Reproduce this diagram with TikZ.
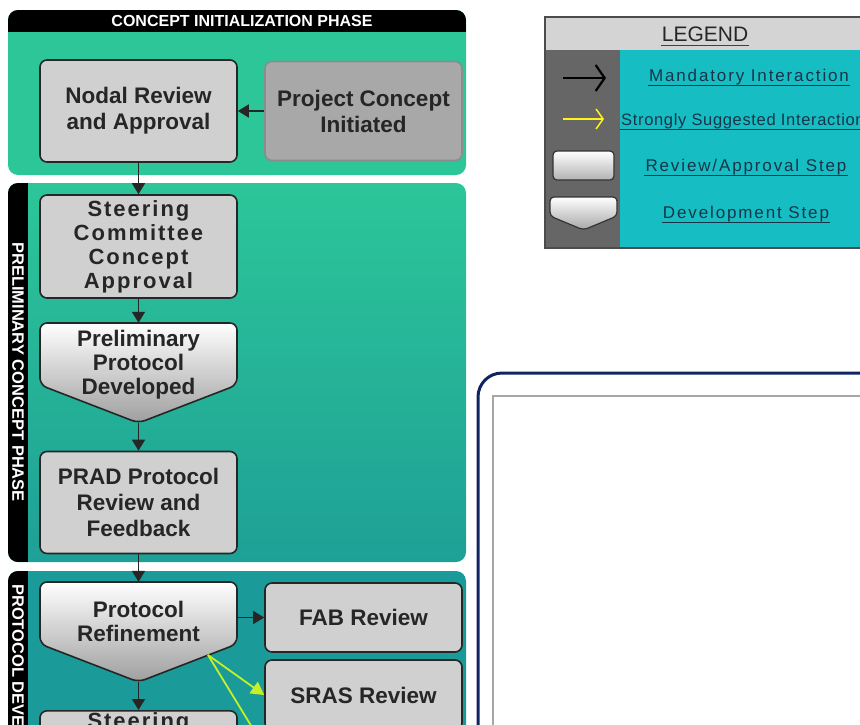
\documentclass[tikz,border=0pt]{standalone}
\usepackage{fontspec}
\setmainfont{Liberation Sans}
\newfontfamily\spacedfont[LetterSpace=9]{Liberation Sans}
\newfontfamily\legendfont[LetterSpace=11]{Liberation Sans}
\newfontfamily\legendtight[LetterSpace=4]{Liberation Sans}
\usetikzlibrary{arrows.meta}

\definecolor{phaseA}{RGB}{44,198,153}
\definecolor{phaseB}{RGB}{30,160,150}
\definecolor{phaseC}{RGB}{26,154,152}
\definecolor{stepgray}{RGB}{208,208,208}
\definecolor{startgray}{RGB}{168,168,168}
\definecolor{leghead}{RGB}{212,212,212}
\definecolor{legdark}{RGB}{102,102,102}
\definecolor{legteal}{RGB}{22,190,196}
\definecolor{legtext}{RGB}{24,52,72}
\definecolor{navy}{RGB}{16,36,100}
\definecolor{hint}{RGB}{196,240,40}

\tikzset{
  reviewstep/.style={draw=black!85, line width=1.6pt, rounded corners=7pt, fill=stepgray,
    minimum width=197pt, minimum height=102pt, align=center, inner sep=2pt,
    font=\bfseries\fontsize{22.5}{26}\selectfont, text=black!85},
  devstep/.style={draw=black!85, line width=1.6pt, rounded corners=7pt, top color=white, bottom color=black!38},
  devtext/.style={minimum width=197pt, minimum height=100pt, align=center, inner sep=0pt, text depth=22pt,
    font=\bfseries\fontsize{22.5}{24}\selectfont, text=black!85},
  phasetitle/.style={text=white, inner sep=0pt, font=\bfseries\fontsize{16}{16}\selectfont},
  must/.style={-{Triangle[length=11pt,width=13pt]}, line width=1.5pt, black!85},
  hintarrow/.style={-{Triangle[length=13pt,width=14pt]}, line width=1.8pt, hint},
  legitem/.style={text=legtext, inner sep=1pt, font=\legendfont\fontsize{17}{17}\selectfont},
  uline/.style={line width=1.4pt, legtext}
}

\begin{document}
\begin{tikzpicture}[x=1pt, y=-1pt]
\path[use as bounding box] (0,0) rectangle (860,724);
\clip (0,0) rectangle (860,724);

% Phases
\fill[phaseA, rounded corners=10pt] (8,10) rectangle (466,175);
\begin{scope}
  \clip[rounded corners=10pt] (8,10) rectangle (466,175);
  \fill[black] (8,10) rectangle (466,32);
\end{scope}
\node[phasetitle] (initphase) at (242,21) {CONCEPT INITIALIZATION PHASE};

\shade[top color=phaseA, bottom color=phaseB, rounded corners=10pt] (8,183) rectangle (466,562);
\begin{scope}
  \clip[rounded corners=10pt] (8,183) rectangle (466,562);
  \fill[black] (8,183) rectangle (28,562);
\end{scope}
\node[phasetitle, rotate=-90, font=\bfseries\fontsize{16.5}{16.5}\selectfont] (prelphase) at (18,372) {PRELIMINARY CONCEPT PHASE};

\fill[phaseC, rounded corners=10pt] (8,571) rectangle (466,820);
\begin{scope}
  \clip[rounded corners=10pt] (8,571) rectangle (466,820);
  \fill[black] (8,571) rectangle (28,820);
\end{scope}
\node[phasetitle, rotate=-90, anchor=west, font=\bfseries\fontsize{16.5}{16.5}\selectfont] (devphase) at (18,584) {PROTOCOL DEVELOPMENT PHASE};

% Review steps
\node[reviewstep] (nodal) at (138.5,111) {Nodal Review\\and Approval};
\node[reviewstep, fill=startgray, draw=black!45, minimum height=99pt] (concept) at (363.5,111) {Project Concept\\Initiated};
\node[reviewstep, minimum height=103pt, font=\spacedfont\bfseries\fontsize{22}{24}\selectfont] (steer) at (138.5,246.5) {Steering\\Committee\\Concept\\Approval};
\node[reviewstep] (prad) at (138.5,502.5) {PRAD Protocol\\Review and\\Feedback};
\node[reviewstep, minimum height=69pt] (fab) at (363.5,617.5) {FAB Review};
\node[reviewstep, minimum height=70pt] (sras) at (363.5,695) {SRAS Review};
\node[reviewstep, anchor=north, minimum height=0pt, text depth=80pt, font=\spacedfont\bfseries\fontsize{22}{24}\selectfont] (steerpro) at (138.5,710) {Steering};

% Development steps
\foreach \nm/\ytop/\txt in {prel/323/{Preliminary\\Protocol\\Developed}, refine/582/{Protocol\\Refinement}}
{
  \draw[devstep] (40,\ytop) -- (237,\ytop) -- (237,\ytop+62) -- (138.5,\ytop+100) -- (40,\ytop+62) -- cycle;
  \node[devtext] (\nm) at (138.5,\ytop+50) {\txt};
}

% Arrows
\draw[must] (concept.west) -- (nodal.east);
\draw[must] (nodal.south) -- (steer.north);
\draw[must] (steer.south) -- (prel.north);
\draw[must] (prel.south) -- (prad.north);
\draw[must] (prad.south) -- (refine.north);
\draw[must] (fab.west -| refine.east) -- (fab.west);
\draw[must] (refine.south) -- (steerpro.north);

\coordinate (hintstart) at (208,655);
\coordinate (hintdown) at (272,760);
\draw[hintarrow] (hintstart) -- (sras.west);
\draw[line width=1.8pt, hint] (hintstart) -- (hintdown);

% Legend
\fill[leghead] (545,17) rectangle (870,50);
\fill[legdark] (545,50) rectangle (620,248);
\fill[legteal] (620,50) rectangle (870,248);
\draw[black!70, line width=1.5pt] (545,17) rectangle (870,248);
\node[inner sep=1pt, text=black!85, font=\fontsize{21}{21}\selectfont] (legend) at (705,34) {LEGEND};
\draw[line width=1.2pt, black!75] ([yshift=-4pt]legend.base west) -- ([yshift=-4pt]legend.base east);

\coordinate (mustA) at (563,78);
\coordinate (mustB) at (606,78);
\draw[line width=2.2pt, black, -{Straight Barb[length=9pt,width=26pt]}] (mustA) -- (mustB);
\coordinate (hintA) at (563,119);
\coordinate (hintB) at (604,119);
\draw[line width=1.5pt, yellow!90!white, -{Straight Barb[length=7pt,width=20pt]}] (hintA) -- (hintB);
\shade[draw=black!80, line width=1.2pt, rounded corners=4pt, top color=white, bottom color=black!30] (553,151) rectangle (614,180);
\shade[draw=black!80, line width=1.2pt, rounded corners=4pt, top color=white, bottom color=black!35]
  (550,197) -- (617,197) -- (617,216) -- (583.5,230) -- (550,216) -- cycle;

\node[legitem] (mandatory) at (749,77) {Mandatory Interaction};
\node[legitem, anchor=west, font=\legendtight\fontsize{16.5}{16.5}\selectfont] (suggested) at (620,121) {Strongly Suggested Interaction};
\node[legitem] (reviewkey) at (746,167) {Review/Approval Step};
\node[legitem] (developkey) at (746,214) {Development Step};
\foreach \n in {mandatory,suggested,reviewkey,developkey}
  \draw[uline] ([yshift=-4pt]\n.base west) -- ([yshift=-4pt]\n.base east);

% Frame
\draw[navy, line width=3pt, rounded corners=24pt] (478,373) rectangle (900,800);
\draw[black!35, line width=2pt, fill=white] (493,396) rectangle (900,800);
\end{tikzpicture}
\end{document}
